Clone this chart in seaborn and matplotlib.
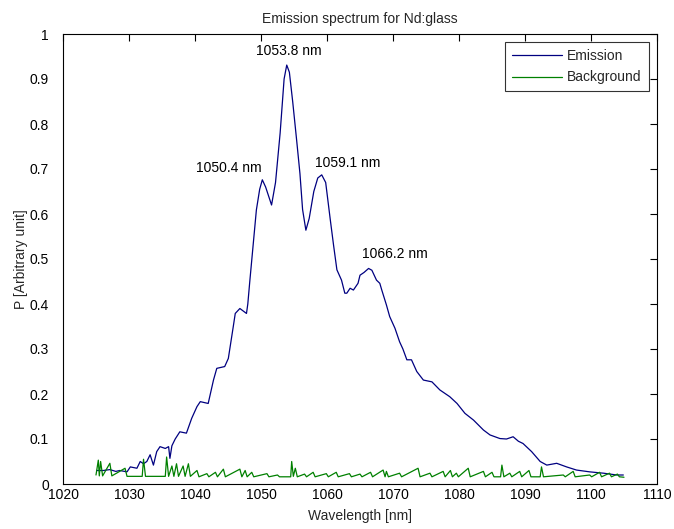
import numpy as np
import pandas as pd
import matplotlib
matplotlib.use("Agg")
import matplotlib.pyplot as plt
import seaborn as sns

# Emission spectrum (wavelength nm, power arb. units)
em_wl = [1025.1, 1026.1, 1027.1, 1028.0, 1028.6, 1029.7, 1030.2, 1031.2, 1031.7, 1032.2,
         1032.7, 1033.2, 1033.7, 1034.2, 1034.7, 1035.5, 1036.0, 1036.2, 1036.5, 1037.0,
         1037.7, 1038.7, 1039.5, 1040.3, 1040.8, 1042.0, 1042.8, 1043.3, 1044.5, 1045.05,
         1045.8, 1046.1, 1046.8, 1047.8, 1048.0, 1048.3, 1049.3, 1049.8, 1050.2, 1050.7,
         1051.6, 1052.2, 1052.9, 1053.5, 1053.9, 1054.3, 1054.8, 1055.4, 1055.9, 1056.3,
         1056.8, 1057.3, 1058.0, 1058.6, 1059.2, 1059.8, 1060.5, 1061.0, 1061.5, 1062.2,
         1062.7, 1063.0, 1063.5, 1064.0, 1064.7, 1065.0, 1065.6, 1066.3, 1066.8, 1067.5,
         1068.0, 1068.3, 1069.0, 1069.5, 1070.3, 1071.0, 1071.5, 1072.1, 1072.8, 1073.6,
         1074.6, 1075.9, 1077.1, 1078.6, 1079.7, 1080.9, 1082.2, 1083.7, 1084.7, 1086.2,
         1087.2, 1088.2, 1089.0, 1089.7, 1091.0, 1092.3, 1093.3, 1094.8, 1096.3, 1097.8,
         1099.8, 1101.9, 1103.9, 1104.9]
em_p = [0.030, 0.030, 0.032, 0.028, 0.030, 0.027, 0.038, 0.035, 0.050, 0.045,
        0.050, 0.065, 0.042, 0.072, 0.083, 0.079, 0.083, 0.057, 0.085, 0.100,
        0.116, 0.113, 0.146, 0.172, 0.183, 0.179, 0.231, 0.257, 0.261, 0.279,
        0.350, 0.379, 0.390, 0.379, 0.400, 0.450, 0.609, 0.655, 0.676, 0.660,
        0.620, 0.670, 0.780, 0.900, 0.931, 0.915, 0.850, 0.764, 0.690, 0.610,
        0.564, 0.590, 0.650, 0.680, 0.687, 0.670, 0.587, 0.530, 0.476, 0.453,
        0.424, 0.424, 0.435, 0.431, 0.446, 0.464, 0.470, 0.479, 0.475, 0.453,
        0.446, 0.431, 0.398, 0.372, 0.346, 0.316, 0.300, 0.276, 0.276, 0.250,
        0.231, 0.227, 0.209, 0.194, 0.179, 0.157, 0.142, 0.120, 0.109, 0.101,
        0.100, 0.105, 0.095, 0.090, 0.072, 0.050, 0.042, 0.046, 0.038, 0.031,
        0.027, 0.024, 0.020, 0.020]

# Background spectrum (baseline with spikes)
bg_wl = [1025.0, 1025.35, 1025.5, 1025.7, 1026.0, 1027.1, 1027.4, 1029.4, 1029.7, 1032.0,
         1032.2, 1032.5, 1035.5, 1035.7, 1036.0, 1036.5, 1036.8, 1037.2, 1037.5, 1038.2,
         1038.5, 1039.0, 1039.3, 1040.3, 1040.6, 1041.8, 1042.1, 1043.1, 1043.4, 1044.3,
         1044.6, 1046.8, 1047.1, 1047.6, 1047.9, 1048.6, 1048.9, 1050.9, 1051.2, 1052.5,
         1052.8, 1054.5, 1054.65, 1054.9, 1055.2, 1055.5, 1056.6, 1056.9, 1057.9, 1058.2,
         1059.9, 1060.2, 1061.4, 1061.7, 1063.4, 1063.7, 1065.0, 1065.3, 1066.6, 1066.9,
         1068.5, 1068.8, 1069.0, 1069.3, 1071.0, 1071.3, 1073.8, 1074.1, 1075.6, 1075.9,
         1077.6, 1077.9, 1078.7, 1079.0, 1079.6, 1079.9, 1081.4, 1081.7, 1083.7, 1084.0,
         1085.0, 1085.3, 1086.3, 1086.5, 1086.8, 1087.7, 1088.0, 1089.2, 1089.5, 1090.6,
         1090.9, 1092.3, 1092.5, 1092.8, 1095.8, 1096.1, 1097.3, 1097.6, 1099.8, 1100.1,
         1101.3, 1101.6, 1102.8, 1103.1, 1104.0, 1104.3, 1105.0]
bg_p = [0.020, 0.053, 0.018, 0.050, 0.018, 0.046, 0.018, 0.035, 0.017, 0.017,
        0.055, 0.017, 0.017, 0.060, 0.017, 0.040, 0.017, 0.045, 0.017, 0.040,
        0.017, 0.045, 0.017, 0.030, 0.016, 0.023, 0.016, 0.026, 0.016, 0.033,
        0.016, 0.033, 0.016, 0.030, 0.016, 0.026, 0.016, 0.023, 0.016, 0.020,
        0.016, 0.016, 0.050, 0.017, 0.035, 0.016, 0.022, 0.016, 0.026, 0.016,
        0.023, 0.016, 0.026, 0.016, 0.023, 0.016, 0.022, 0.016, 0.026, 0.016,
        0.031, 0.016, 0.028, 0.016, 0.024, 0.016, 0.035, 0.016, 0.024, 0.016,
        0.028, 0.016, 0.030, 0.016, 0.024, 0.016, 0.035, 0.016, 0.028, 0.016,
        0.026, 0.016, 0.016, 0.042, 0.016, 0.024, 0.016, 0.028, 0.016, 0.030,
        0.016, 0.016, 0.038, 0.016, 0.020, 0.016, 0.028, 0.016, 0.020, 0.016,
        0.026, 0.016, 0.024, 0.016, 0.022, 0.016, 0.015]

# Peak annotations: label, x, y (text centre in data coords)
ann_text = ["1053.8 nm", "1050.4 nm", "1059.1 nm", "1066.2 nm"]
ann_x = [1054.2, 1045.1, 1063.2, 1070.3]
ann_y = [0.962, 0.702, 0.713, 0.511]

x_ticks = list(range(1020, 1111, 10))
y_ticks = [round(v * 0.1, 1) for v in range(0, 11)]
y_tick_labels = ["0", "0.1", "0.2", "0.3", "0.4", "0.5", "0.6", "0.7", "0.8", "0.9", "1"]

df = pd.concat([
    pd.DataFrame({"Wavelength": em_wl, "P": em_p, "Series": "Emission"}),
    pd.DataFrame({"Wavelength": bg_wl, "P": bg_p, "Series": "Background"}),
], ignore_index=True)

sns.set_theme(style="white")
plt.rcParams["font.family"] = ["Liberation Sans", "DejaVu Sans"]

fig = plt.figure(figsize=(6.74, 5.29), dpi=100)
ax = fig.add_axes([63 / 674, 1 - 484 / 529, 594 / 674, 450 / 529])

palette = {"Emission": "#000080", "Background": "#008000"}
sns.lineplot(data=df, x="Wavelength", y="P", hue="Series", palette=palette,
             estimator=None, sort=False, linewidth=0.9, ax=ax)

ax.set_xlim(1020, 1110)
ax.set_ylim(0, 1)
ax.set_xticks(x_ticks)
ax.set_xticklabels([str(t) for t in x_ticks])
ax.set_yticks(y_ticks)
ax.set_yticklabels(y_tick_labels)
ax.tick_params(direction="in", top=True, right=True, length=5, width=0.8,
               labelsize=10, colors="black")
ax.tick_params(axis="x", pad=3)
ax.tick_params(axis="y", pad=10)
for s in ax.spines.values():
    s.set_color("black")
    s.set_linewidth(0.8)

ax.set_xlabel("Wavelength [nm]", fontsize=10, labelpad=5)
ax.set_ylabel("P [Arbitrary unit]", fontsize=10)
ax.yaxis.set_label_coords(-0.059, 0.5)
ax.set_title("Emission spectrum for Nd:glass", fontsize=10, pad=8)

for t, x, y in zip(ann_text, ann_x, ann_y):
    ax.text(x, y, t, ha="center", va="center", fontsize=10, color="black")

leg = ax.legend(loc="upper right", frameon=True, fancybox=False, fontsize=10,
                handlelength=3.6, borderaxespad=0.6, borderpad=0.5,
                labelspacing=0.52, handletextpad=0.4)
leg.get_frame().set_edgecolor("black")
leg.get_frame().set_linewidth(0.8)
for line in leg.get_lines():
    line.set_linewidth(0.9)

fig.savefig("out.png", dpi=100, facecolor="white")
